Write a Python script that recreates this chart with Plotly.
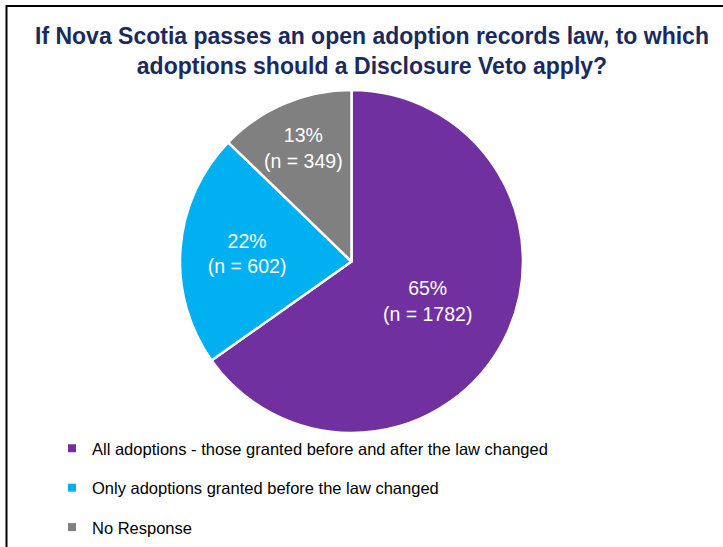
import plotly.graph_objects as go

# Survey responses: which adoptions a Disclosure Veto should apply to
categories = [
    "All adoptions - those granted before and after the law changed",
    "Only adoptions granted before the law changed",
    "No Response",
]
counts = [1782, 602, 349]
percent_labels = ["65%", "22%", "13%"]
colors = ["#7030A0", "#00B0F0", "#808080"]

title_text = ("If Nova Scotia passes an open adoption records law, to which<br>"
              "adoptions should a Disclosure Veto apply?")

W, H = 723, 547

fig = go.Figure()

fig.add_trace(go.Pie(
    labels=categories,
    values=counts,
    text=percent_labels,
    texttemplate="%{text}<br>(n = %{value})",
    textposition="inside",
    insidetextorientation="horizontal",
    textfont=dict(family="Liberation Sans", size=19.5, color="white"),
    marker=dict(colors=colors, line=dict(color="white", width=2.5)),
    sort=False,
    direction="clockwise",
    rotation=0,
    showlegend=False,
    domain=dict(x=[180 / W, 523 / W], y=[1 - 433 / H, 1 - 90 / H]),
))

# Legend entries as square markers, one group each so they can be spaced apart
for i, (name, col) in enumerate(zip(categories, colors)):
    fig.add_trace(go.Scatter(
        x=[None], y=[None], mode="markers", name=name,
        marker=dict(symbol="square", size=8, color=col),
        legendgroup=f"g{i}", showlegend=True,
    ))

fig.update_layout(
    width=W, height=H,
    margin=dict(l=0, r=0, t=0, b=0),
    paper_bgcolor="white", plot_bgcolor="white",
    xaxis=dict(visible=False), yaxis=dict(visible=False),
    annotations=[dict(
        text=title_text, xref="paper", yref="paper",
        x=372 / W, xanchor="center", y=1 - 21 / H, yanchor="top",
        showarrow=False, align="center",
        font=dict(family="Liberation Sans", size=23, color="#1B2A5E", weight="bold"),
    )],
    legend=dict(
        x=52 / W, xanchor="left", y=1 - 431 / H, yanchor="top",
        font=dict(family="Liberation Sans", size=16.5, color="#000000"),
        traceorder="grouped", tracegroupgap=15,
        bgcolor="rgba(0,0,0,0)",
    ),
    shapes=[dict(
        type="rect", xref="paper", yref="paper",
        x0=6.5 / W, x1=1.05, y0=-0.05, y1=1 - 6 / H,
        line=dict(color="black", width=2), fillcolor="rgba(0,0,0,0)",
    )],
)

fig.write_html("out.html")
